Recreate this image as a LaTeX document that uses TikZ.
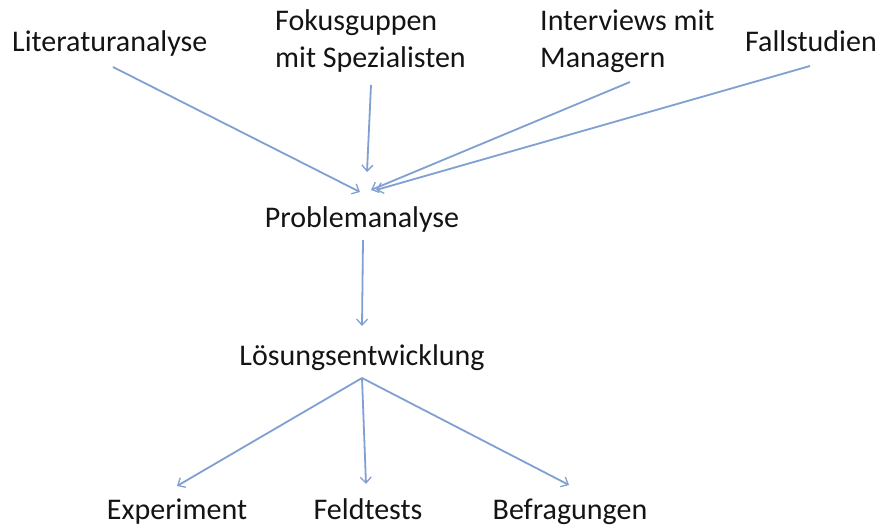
\documentclass[tikz,border=0pt]{standalone}
\usepackage{fontspec}
\setmainfont{Carlito}
\usetikzlibrary{arrows.meta}
\definecolor{arrowblue}{RGB}{128,160,210}
\definecolor{txt}{RGB}{20,20,20}
\tikzset{
  lbl/.style={inner sep=0pt, text=txt, font=\fontsize{30}{36}\selectfont},
  mlbl/.style={lbl, align=left},
  arr/.style={draw=arrowblue, line width=1.8pt, -{Straight Barb[length=6pt,width=11pt,line width=1.3pt]}}
}
\begin{document}
\begin{tikzpicture}[x=1pt,y=-1pt]
\useasboundingbox[fill=white] (0,0) rectangle (883,527);
% texts
\node[lbl, anchor=base west] (lit) at (12,52) {Literaturanalyse};
\node[mlbl, anchor=base west] (fok) at (275,67) {Fokusguppen\\mit Spezialisten};
\node[mlbl, anchor=base west] (int) at (540,67) {Interviews mit\\Managern};
\node[lbl, anchor=base] (fall) at (811,52) {Fallstudien};
\node[lbl, anchor=base] (pa) at (362,227) {Problemanalyse};
\node[lbl, anchor=base] (le) at (362,365) {Lösungsentwicklung};
\node[lbl, anchor=base] (exp) at (177,519) {Experiment};
\node[lbl, anchor=base] (feld) at (368,519) {Feldtests};
\node[lbl, anchor=base] (bef) at (570,519) {Befragungen};
% connector end points
\coordinate (lit-o) at (113,67);
\coordinate (fok-o) at (371,85);
\coordinate (int-o) at (630,82);
\coordinate (fall-o) at (810,66);
\coordinate (pa-i1) at (360,192);
\coordinate (pa-i2) at (367,172);
\coordinate (pa-i3) at (371,190);
\coordinate (pa-i4) at (376,190);
\coordinate (pa-o) at (363,240);
\coordinate (le-i) at (362,326);
\coordinate (le-o) at (362,378);
\coordinate (exp-i) at (177,486);
\coordinate (feld-i) at (366,484);
\coordinate (bef-i) at (569,485);
% connectors
\draw[arr] (lit-o) -- (pa-i1);
\draw[arr] (fok-o) -- (pa-i2);
\draw[arr] (int-o) -- (pa-i3);
\draw[arr] (fall-o) -- (pa-i4);
\draw[arr] (pa-o) -- (le-i);
\draw[arr] (le-o) -- (exp-i);
\draw[arr] (le-o) -- (feld-i);
\draw[arr] (le-o) -- (bef-i);
\end{tikzpicture}
\end{document}
